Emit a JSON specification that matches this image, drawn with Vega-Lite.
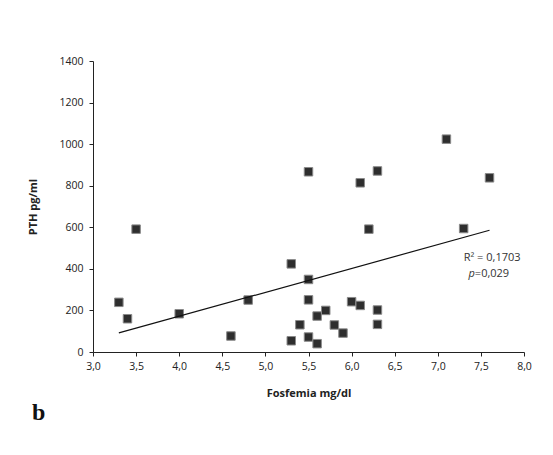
{
  "$schema": "https://vega.github.io/schema/vega-lite/v6.json",
  "width": 431,
  "height": 291,
  "autosize": {"type": "none"},
  "padding": {"left": 93, "top": 61, "right": 29, "bottom": 103},
  "background": "white",
  "config": {"view": {"stroke": null}, "font": "Open Sans"},
  "title": {"text": "b", "orient": "bottom", "anchor": "start", "frame": "group", "font": "Liberation Serif", "fontSize": 24, "fontWeight": "bold", "color": "#111", "dx": -61, "offset": 2},
  "data": {"values": [
    {"fosfemia": 3.3, "pth": 239}, {"fosfemia": 3.4, "pth": 160}, {"fosfemia": 3.5, "pth": 591},
    {"fosfemia": 4.0, "pth": 184}, {"fosfemia": 4.6, "pth": 77}, {"fosfemia": 4.8, "pth": 250},
    {"fosfemia": 5.3, "pth": 424}, {"fosfemia": 5.3, "pth": 54}, {"fosfemia": 5.4, "pth": 131},
    {"fosfemia": 5.5, "pth": 867}, {"fosfemia": 5.5, "pth": 349}, {"fosfemia": 5.5, "pth": 251},
    {"fosfemia": 5.5, "pth": 72}, {"fosfemia": 5.6, "pth": 173}, {"fosfemia": 5.6, "pth": 40},
    {"fosfemia": 5.7, "pth": 200}, {"fosfemia": 5.8, "pth": 130}, {"fosfemia": 5.9, "pth": 91},
    {"fosfemia": 6.0, "pth": 242}, {"fosfemia": 6.1, "pth": 814}, {"fosfemia": 6.1, "pth": 224},
    {"fosfemia": 6.2, "pth": 591}, {"fosfemia": 6.3, "pth": 871}, {"fosfemia": 6.3, "pth": 202},
    {"fosfemia": 6.3, "pth": 133}, {"fosfemia": 7.1, "pth": 1024}, {"fosfemia": 7.3, "pth": 594},
    {"fosfemia": 7.6, "pth": 838}
  ]},
  "encoding": {
    "x": {"field": "fosfemia", "type": "quantitative", "scale": {"domain": [3, 8], "nice": false, "zero": false},
      "axis": {"title": "Fosfemia mg/dl", "titleFont": "Open Sans", "titleFontSize": 11, "titleFontWeight": "bold", "titleColor": "#222", "titlePadding": 16,
        "values": [3, 3.5, 4, 4.5, 5, 5.5, 6, 6.5, 7, 7.5, 8], "labelExpr": "replace(format(datum.value, '.1f'), '.', ',')",
        "grid": false, "domainColor": "#222", "tickColor": "#222", "tickSize": 4, "labelFontSize": 10.5, "labelColor": "#222", "labelPadding": 5, "labelFlush": false}},
    "y": {"field": "pth", "type": "quantitative", "scale": {"domain": [0, 1400], "nice": false},
      "axis": {"title": "PTH pg/ml", "titleFont": "Open Sans", "titleFontSize": 11, "titleFontWeight": "bold", "titleColor": "#222", "titlePadding": 20,
        "values": [0, 200, 400, 600, 800, 1000, 1200, 1400], "format": "d",
        "grid": false, "domainColor": "#222", "tickColor": "#222", "tickSize": 4, "labelFontSize": 10.5, "labelColor": "#222", "labelPadding": 6}}
  },
  "layer": [
    {"mark": {"type": "square", "size": 72, "fill": "#2e2e2e", "stroke": "#8a8a8a", "strokeWidth": 1, "opacity": 1}},
    {"transform": [{"regression": "pth", "on": "fosfemia"}],
     "mark": {"type": "line", "color": "#111", "strokeWidth": 1.2}},
    {"data": {"values": [{"fosfemia": 7.63, "pth": 452, "label": "R² = 0,1703"}]},
     "mark": {"type": "text", "font": "Open Sans", "fontSize": 11, "color": "#333", "align": "center", "baseline": "middle"},
     "encoding": {"text": {"field": "label"}}},
    {"data": {"values": [{"fosfemia": 7.43, "pth": 375, "label": "p"}]},
     "mark": {"type": "text", "font": "Open Sans", "fontSize": 11, "fontStyle": "italic", "color": "#333", "align": "right", "baseline": "middle"},
     "encoding": {"text": {"field": "label"}}},
    {"data": {"values": [{"fosfemia": 7.43, "pth": 375, "label": "=0,029"}]},
     "mark": {"type": "text", "font": "Open Sans", "fontSize": 11, "color": "#333", "align": "left", "baseline": "middle"},
     "encoding": {"text": {"field": "label"}}}
  ]
}
